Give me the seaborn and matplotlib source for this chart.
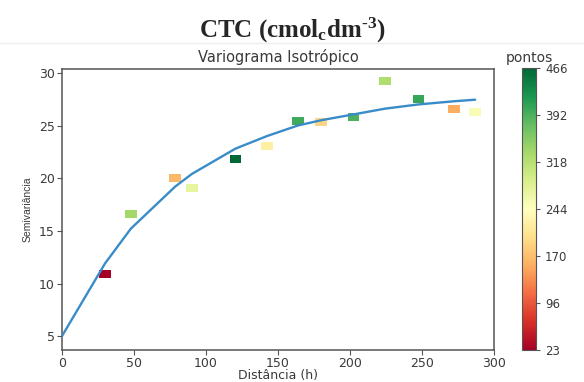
import matplotlib
matplotlib.use("Agg")
import matplotlib.pyplot as plt
import matplotlib.colors as mcolors
import numpy as np
import pandas as pd
import seaborn as sns

# Experimental semivariogram (lag distance, semivariance, number of pairs)
lag_dist = [29.9, 47.8, 78.6, 90.2, 120.4, 142.4, 163.8, 180.0, 202.3, 224.3, 247.5, 272.1, 286.9]
semivar = [10.9, 16.6, 20.0, 19.1, 21.8, 23.1, 25.4, 25.3, 25.8, 29.2, 27.5, 26.6, 26.3]
pontos = [23, 333, 165, 271, 466, 222, 400, 191, 390, 325, 404, 156, 253]

# Fitted model evaluated at the origin and at each lag
model_dist = [0.0, 29.9, 47.8, 78.6, 90.2, 120.4, 142.4, 163.8, 180.0, 202.3, 224.3, 247.5, 272.1, 286.9]
model_gamma = [5.0, 11.9, 15.2, 19.2, 20.4, 22.8, 24.0, 25.0, 25.5, 26.05, 26.6, 27.0, 27.3, 27.45]

cbar_ticks = [23, 96, 170, 244, 318, 392, 466]

sns.set_style("ticks")
plt.rcParams["font.family"] = ["DejaVu Sans"]
plt.rcParams["mathtext.fontset"] = "custom"
plt.rcParams["mathtext.rm"] = "Liberation Serif:bold"
plt.rcParams["mathtext.bf"] = "Liberation Serif:bold"
plt.rcParams["mathtext.it"] = "Liberation Serif:bold"

text_gray = "#3a3a3a"
spine_gray = "#555555"

fig = plt.figure(figsize=(5.84, 3.82), dpi=100)
ax = fig.add_axes([0.106, 0.084, 0.740, 0.735])
cax = fig.add_axes([0.894, 0.084, 0.024, 0.738])

points = pd.DataFrame({"h": lag_dist, "gamma": semivar, "pontos": pontos})
model = pd.DataFrame({"h": model_dist, "gamma": model_gamma})

vmin, vmax = min(cbar_ticks), max(cbar_ticks)
norm = mcolors.Normalize(vmin=vmin, vmax=vmax)
cmap = plt.get_cmap("RdYlGn")

rect = [(-1.45, -1.0), (1.45, -1.0), (1.45, 1.0), (-1.45, 1.0), (-1.45, -1.0)]
sns.scatterplot(data=points, x="h", y="gamma", hue="pontos", palette=cmap,
                hue_norm=norm, marker=rect, s=70, linewidth=0, legend=False,
                ax=ax, zorder=2)
sns.lineplot(data=model, x="h", y="gamma", color="#3a8cc8", linewidth=1.7,
             ax=ax, zorder=3, sort=False)

ax.set_xlim(0, 300)
ax.set_ylim(3.7, 30.35)
ax.set_xticks([0, 50, 100, 150, 200, 250, 300])
ax.set_yticks([5, 10, 15, 20, 25, 30])
ax.tick_params(labelsize=9, colors=spine_gray, labelcolor=text_gray, length=3.5, pad=1.5)
for sp in ax.spines.values():
    sp.set_visible(True)
    sp.set_color(spine_gray)
    sp.set_linewidth(1.1)

ax.set_title("Variograma Isotrópico", fontsize=10.5, color=text_gray, pad=5,
             family="DejaVu Sans")
ax.set_xlabel("Distância (h)", fontsize=9, color=text_gray, labelpad=-0.5,
              family="DejaVu Sans")
ax.set_ylabel("Semivariância", fontsize=7.5, color=text_gray, labelpad=5,
              family="Liberation Sans")

sm = matplotlib.cm.ScalarMappable(norm=norm, cmap=cmap)
cb = fig.colorbar(sm, cax=cax, ticks=cbar_ticks)
cb.ax.tick_params(labelsize=8.5, colors=spine_gray, labelcolor=text_gray, length=3)
cb.outline.set_edgecolor(spine_gray)
cb.ax.set_title("pontos", fontsize=10, color=text_gray, pad=4, family="DejaVu Sans")

fig.text(0.5, 0.921, r"CTC (cmol$_\mathrm{c}$dm$^{\text{-3}}$)", ha="center",
         va="center", fontsize=18, family="Liberation Serif", weight="bold")
fig.add_artist(plt.Line2D([0, 1], [0.888, 0.888], color="#eeeeee", lw=1,
                          transform=fig.transFigure))

fig.savefig("out.png", dpi=100)
